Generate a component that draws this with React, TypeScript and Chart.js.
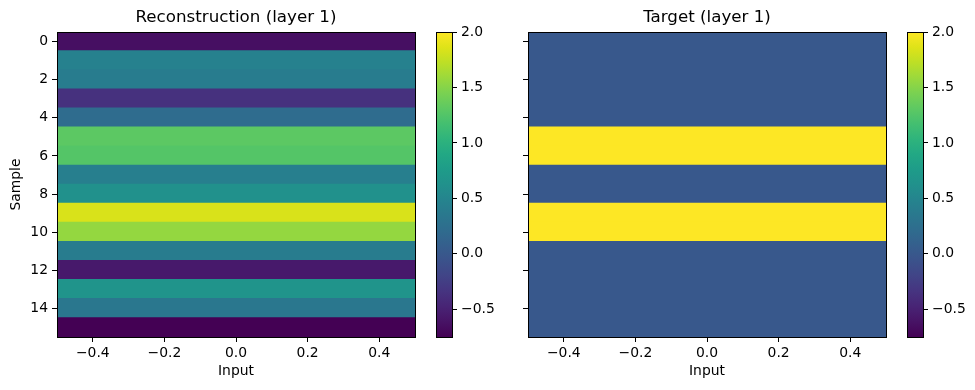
import React, { useEffect, useRef } from "react";
import { Chart, registerables } from "chart.js";

Chart.register(...registerables);

// ---------------- data ----------------
const sampleIndex = [0, 1, 2, 3, 4, 5, 6, 7, 8, 9, 10, 11, 12, 13, 14, 15];
const reconstruction = [-0.64, 0.45, 0.4, -0.36, 0.21, 1.3, 1.26, 0.43, 0.63, 1.84, 1.56, 0.4, -0.56, 0.66, 0.34, -0.75];
const target = [0, 0, 0, 0, 0, 2, 2, 0, 0, 2, 2, 0, 0, 0, 0, 0];
const inputRange: [number, number] = [-0.5, 0.5];
const sampleRange = [-0.5, 15.5];
const xTickValues = [-0.4, -0.2, 0, 0.2, 0.4];
const yTickValues = [0, 2, 4, 6, 8, 10, 12, 14];
const colorbarTickValues = [-0.5, 0, 0.5, 1, 1.5, 2];
const panelTitles = ["Reconstruction (layer 1)", "Target (layer 1)"];
const xAxisTitle = "Input";
const yAxisTitle = "Sample";

const vmin = Math.min(...reconstruction, ...target);
const vmax = Math.max(...reconstruction, ...target);

// ---------------- style ----------------
const FONT = "DejaVu Sans";
const tickFont = { family: FONT, size: 13.9 };
const titleFont = { family: FONT, size: 16.7, weight: "normal" as const };

const VIRIDIS = [
  "#440154", "#471365", "#482475", "#463480", "#414487", "#3b528b", "#355f8d",
  "#2f6c8e", "#2a788e", "#25848e", "#21918c", "#1e9c89", "#22a884", "#2fb47c",
  "#44bf70", "#5ec962", "#7ad151", "#9bd93c", "#bddf26", "#dfe318", "#fde725",
];

function hexToRgb(h: string) {
  return [parseInt(h.slice(1, 3), 16), parseInt(h.slice(3, 5), 16), parseInt(h.slice(5, 7), 16)];
}

function viridis(t: number) {
  const c = Math.max(0, Math.min(1, t)) * (VIRIDIS.length - 1);
  const i = Math.min(Math.floor(c), VIRIDIS.length - 2);
  const f = c - i;
  const a = hexToRgb(VIRIDIS[i]);
  const b = hexToRgb(VIRIDIS[i + 1]);
  const m = a.map((v, k) => Math.round(v + (b[k] - v) * f));
  return `rgb(${m[0]},${m[1]},${m[2]})`;
}

const fmt = (v: number) => {
  const s = Number(v).toFixed(1);
  return s.replace("-", "\u2212");
};

const align = (p: number) => Math.round(p - 0.5) + 0.5;

const framePlugin = {
  id: "frame",
  afterDatasetsDraw(chart: any) {
    const { ctx, chartArea } = chart;
    const l = align(chartArea.left);
    const r = align(chartArea.right);
    const t = align(chartArea.top);
    const b = align(chartArea.bottom);
    ctx.save();
    ctx.strokeStyle = "#000";
    ctx.lineWidth = 1;
    ctx.strokeRect(l, t, r - l, b - t);
    ctx.restore();
  },
};

const colorbarPlugin = {
  id: "colorbarFill",
  beforeDatasetsDraw(chart: any) {
    const { ctx, chartArea } = chart;
    const ys = chart.scales.y;
    const y0 = ys.getPixelForValue(vmin);
    const y1 = ys.getPixelForValue(vmax);
    const g = ctx.createLinearGradient(0, y0, 0, y1);
    VIRIDIS.forEach((c, i) => g.addColorStop(i / (VIRIDIS.length - 1), c));
    ctx.save();
    ctx.fillStyle = g;
    ctx.fillRect(chartArea.left, y1, chartArea.right - chartArea.left, y0 - y1);
    const l = align(chartArea.left);
    const r = align(chartArea.right);
    const t = align(chartArea.top);
    const b = align(chartArea.bottom);
    ctx.strokeStyle = "#000";
    ctx.lineWidth = 1;
    ctx.strokeRect(l, t, r - l, b - t);
    ctx.restore();
  },
};

function Heatmap({ left, title, values, showLabels }: { left: number; title: string; values: number[]; showLabels: boolean }) {
  const ref = useRef<HTMLCanvasElement>(null);
  useEffect(() => {
    const chart = new Chart(ref.current!, {
      type: "bar",
      data: {
        datasets: [
          {
            data: values.map((_, i) => ({ x: inputRange, y: sampleIndex[i] })) as any,
            backgroundColor: values.map((v) => viridis((v - vmin) / (vmax - vmin))),
            borderWidth: 0,
            barPercentage: 1,
            categoryPercentage: 1,
            inflateAmount: 0.8,
          },
        ],
      },
      options: {
        indexAxis: "y",
        responsive: false,
        animation: false,
        events: [],
        layout: { padding: { left: 0, right: 15, top: 0, bottom: 0 } },
        plugins: {
          legend: { display: false },
          tooltip: { enabled: false },
          title: {
            display: true,
            text: title,
            fullSize: false,
            color: "#000",
            font: titleFont,
            padding: { top: 8, bottom: 4 },
          },
        },
        scales: {
          x: {
            type: "linear",
            min: inputRange[0],
            max: inputRange[1],
            offset: false,
            afterFit: (s: any) => {
              s.height = 53;
            },
            afterBuildTicks: (s: any) => {
              s.ticks = xTickValues.map((v) => ({ value: v }));
            },
            ticks: { callback: (v: any) => fmt(v), font: tickFont, color: "#000", padding: 3, maxRotation: 0, autoSkip: false },
            grid: { drawOnChartArea: false, drawTicks: true, tickLength: 5, color: "#000", lineWidth: 1, offset: false },
            border: { display: true, color: "#000", width: 1 },
            title: { display: true, text: xAxisTitle, font: tickFont, color: "#000", padding: { top: 0, bottom: 10 } },
          },
          y: {
            type: "linear",
            min: sampleRange[0],
            max: sampleRange[1],
            reverse: true,
            offset: false,
            afterFit: (s: any) => {
              s.width = 57;
            },
            afterBuildTicks: (s: any) => {
              s.ticks = yTickValues.map((v) => ({ value: v }));
            },
            ticks: {
              callback: (v: any) => (showLabels ? String(v) : ""),
              font: tickFont,
              color: "#000",
              padding: 4,
              autoSkip: false,
            },
            grid: { drawOnChartArea: false, drawTicks: true, tickLength: 5, color: "#000", lineWidth: 1, offset: false },
            border: { display: true, color: "#000", width: 1 },
            title: { display: showLabels, text: yAxisTitle, font: tickFont, color: "#000", padding: { top: 8, bottom: 0 } },
          },
        },
      } as any,
      plugins: [framePlugin],
    });
    return () => chart.destroy();
  }, []);
  return <canvas ref={ref} width={430} height={390} style={{ position: "absolute", left, top: 0 }} />;
}

function Colorbar({ left, width }: { left: number; width: number }) {
  const ref = useRef<HTMLCanvasElement>(null);
  useEffect(() => {
    const chart = new Chart(ref.current!, {
      type: "bar",
      data: { datasets: [] },
      options: {
        responsive: false,
        animation: false,
        events: [],
        layout: { padding: { left: 6, right: 0, top: 32, bottom: 53 } },
        plugins: { legend: { display: false }, tooltip: { enabled: false } },
        scales: {
          x: { type: "linear", display: false },
          y: {
            type: "linear",
            position: "right",
            min: vmin,
            max: vmax,
            afterFit: (s: any) => {
              s.width = width - 6 - 16;
            },
            afterBuildTicks: (s: any) => {
              s.ticks = colorbarTickValues.map((v) => ({ value: v }));
            },
            ticks: { callback: (v: any) => fmt(v), font: tickFont, color: "#000", padding: 4, autoSkip: false },
            grid: { drawOnChartArea: false, drawTicks: true, tickLength: 5, color: "#000", lineWidth: 1 },
            border: { display: true, color: "#000", width: 1 },
          },
        },
      } as any,
      plugins: [colorbarPlugin],
    });
    return () => chart.destroy();
  }, []);
  return <canvas ref={ref} width={width} height={390} style={{ position: "absolute", left, top: 0 }} />;
}

export default function App() {
  return (
    <div style={{ position: "fixed", left: 0, top: 0, width: 975, height: 390, background: "#fff", overflow: "hidden" }}>
      <Heatmap left={0} title={panelTitles[0]} values={reconstruction} showLabels={true} />
      <Colorbar left={430} width={80} />
      <Heatmap left={471} title={panelTitles[1]} values={target} showLabels={false} />
      <Colorbar left={901} width={74} />
    </div>
  );
}
